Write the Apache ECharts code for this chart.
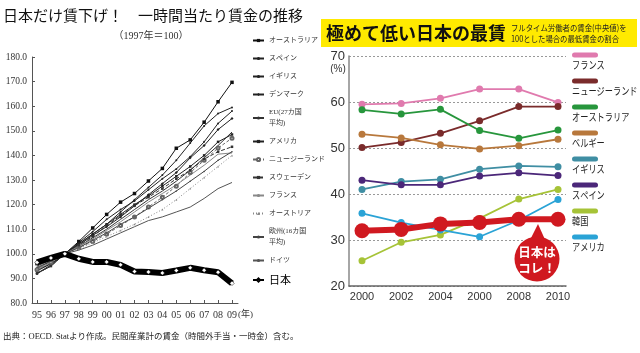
<!DOCTYPE html>
<html><head><meta charset="utf-8">
<script src="https://cdn.jsdelivr.net/npm/echarts@6/dist/echarts.min.js"></script>
<style>html,body{margin:0;padding:0;background:#fff}#c{width:640px;height:353px}</style>
</head><body><div id="c"></div><script>
// ---------- Left chart data (1997 = 100) ----------
const leftCategories = ['95','96','97','98','99','00','01','02','03','04','05','06','07','08','09'];
const leftTickLabels = ['95','96','97','98','99','00','01','02','03','04','05','06','07','08','09'];
const australiaIdx = [96, 97.5, 100, 105, 110.5, 116, 121, 124.5, 129.6, 134.7, 142.9, 146.3, 153.5, 161.8, 169.7];
const spainIdx     = [92, 95, 100, 104, 108, 112, 117, 122, 127, 132, 138, 145, 152, 157, 159.5];
const ukIdx        = [93.5, 96, 100, 104.5, 109, 114, 118, 121.5, 126, 130.5, 134.5, 139.5, 145.5, 153, 158];
const denmarkIdx   = [92, 95.5, 100, 103.5, 107.5, 111, 115, 119.5, 124, 128.5, 133, 139, 144, 150.5, 155];
const eu27Idx      = [94, 97, 100, 103, 106.5, 110, 114, 118, 122, 125.5, 129.5, 134, 139, 144, 149.5];
const usaIdx       = [93, 96, 100, 104, 108, 112, 116, 120, 123.5, 127.5, 131.5, 135.5, 140, 145.5, 148.5];
const nzIdx        = [93.5, 96.5, 100, 102.5, 105, 108, 111.5, 115, 119, 123, 127.5, 133, 138, 143, 147];
const swedenIdx    = [92, 95, 100, 103.5, 107, 111.5, 115.5, 119.5, 123, 126.5, 130.5, 134, 138.5, 141.5, 143.5];
const franceIdx    = [93.5, 96.5, 100, 103, 106, 109.5, 113, 117, 121, 124.5, 128, 132, 136, 140.5, 141];
const austriaIdx   = [94, 97, 100, 102, 104.5, 107, 109.5, 112, 115, 118, 122, 126.5, 131, 135.5, 140];
const eu16Idx      = [94.5, 97, 100, 102.5, 105.5, 108.5, 112, 115, 118.5, 122, 125.5, 129.5, 133.5, 138, 141.5];
const germanyIdx   = [95, 97.5, 100, 101.5, 103.5, 106, 108.5, 111, 113.5, 115, 117, 119, 122.5, 126.5, 129];
const japanIdx     = [96.5, 98.3, 100, 98, 96.7, 96.7, 95.5, 92.8, 92.6, 92.2, 93.2, 94.3, 93.3, 92.5, 88];

// ---------- Right chart data (% of median full-time wage) ----------
const rightCategories = ['2000','2002','2004','2006','2008','2010'];
const rightTickLabels = ['2000','2002','2004','2000','2008','2010'];
const franceMin    = [59.5, 59.7, 60.8, 62.8, 62.8, 59.9];
const nzMin        = [50.1, 51.2, 53.2, 55.9, 59.0, 59.0];
const australiaMin = [58.3, 57.4, 58.4, 53.8, 52.1, 53.9];
const belgiumMin   = [53.0, 52.2, 50.7, 49.8, 50.5, 51.9];
const ukMin        = [41.0, 42.7, 43.2, 45.4, 46.1, 45.9];
const spainMin     = [43.0, 42.0, 42.0, 43.9, 44.6, 44.0];
const koreaMin     = [25.5, 29.5, 31.1, 34.7, 38.9, 41.0];
const usaMin       = [35.8, 33.8, 32.2, 30.7, 34.3, 38.8];
const japanMin     = [32.0, 32.3, 33.5, 33.8, 34.5, 34.5];

const serif = "'Liberation Serif','Noto Sans CJK JP',serif";
const jp = "'Noto Sans CJK JP',sans-serif";

const leftDefs = [
  ['オーストラリア', australiaIdx, {color:'#111', type:'solid'}, 'rect', 3.5],
  ['スペイン', spainIdx, {color:'#222', type:'solid'}, 'circle', 2],
  ['イギリス', ukIdx, {color:'#222', type:'solid'}, 'circle', 2],
  ['デンマーク', denmarkIdx, {color:'#222', type:'solid'}, 'diamond', 3],
  ['EU(27カ国平均)', eu27Idx, {color:'#333', type:'solid'}, 'none', 0],
  ['アメリカ', usaIdx, {color:'#222', type:'solid'}, 'rect', 2.5],
  ['ニュージーランド', nzIdx, {color:'#666', type:[3,2]}, 'emptyCircle', 3],
  ['スウェーデン', swedenIdx, {color:'#333', type:[4,2]}, 'rect', 2.5],
  ['フランス', franceIdx, {color:'#888', type:'solid'}, 'none', 0],
  ['オーストリア', austriaIdx, {color:'#888', type:[1,2]}, 'triangle', 2],
  ['欧州(16カ国平均)', eu16Idx, {color:'#444', type:'solid'}, 'circle', 1.5],
  ['ドイツ', germanyIdx, {color:'#555', type:'solid'}, 'none', 0]
];

const series = [];
leftDefs.forEach(d => {
  series.push({
    name: d[0], type: 'line', xAxisIndex: 1, yAxisIndex: 1, data: d[1],
    symbol: d[3], symbolSize: d[4], showSymbol: d[3] !== 'none',
    lineStyle: {width: 1, color: d[2].color, type: d[2].type},
    itemStyle: {color: d[2].color}, animation: false, silent: true
  });
});
series.push({
  name: '日本', type: 'line', xAxisIndex: 1, yAxisIndex: 1, data: japanIdx,
  symbol: 'diamond', symbolSize: 4.5, z: 5,
  lineStyle: {width: 6, color: '#000'}, itemStyle: {color: '#fff', borderColor: '#000', borderWidth: 0.5},
  animation: false, silent: true
});

const rightDefs = [
  ['フランス', franceMin, '#E07AAE'],
  ['ニュージーランド', nzMin, '#7A2B2B'],
  ['オーストラリア', australiaMin, '#27963C'],
  ['ベルギー', belgiumMin, '#B8783C'],
  ['イギリス', ukMin, '#3F8EA3'],
  ['スペイン', spainMin, '#4B2779'],
  ['韓国', koreaMin, '#A6C337'],
  ['アメリカ', usaMin, '#2AA3D6']
];
rightDefs.forEach(d => {
  series.push({
    name: 'R_' + d[0], type: 'line', xAxisIndex: 3, yAxisIndex: 3, data: d[1],
    symbol: 'circle', symbolSize: 7, lineStyle: {width: 1.8, color: d[2]},
    itemStyle: {color: d[2]}, animation: false, silent: true
  });
});
series.push({
  name: 'R_日本', type: 'line', xAxisIndex: 3, yAxisIndex: 3, data: japanMin,
  symbol: 'circle', symbolSize: 15, z: 6, lineStyle: {width: 6, color: '#D01920'},
  itemStyle: {color: '#D01920'}, animation: false, silent: true
});

const graphics = [
  {type:'text', left:3, top:8, style:{text:'日本だけ賃下げ！　一時間当たり賃金の推移', font:'15px '+jp, fill:'#111'}},
  {type:'text', x:151, y:36, style:{text:'（1997年＝100）', font:'10px '+serif, fill:'#333', textAlign:'center', textVerticalAlign:'middle'}},
  {type:'text', x:3, y:337, style:{text:'出典：OECD. Statより作成。民間産業計の賃金（時間外手当・一時金）含む。', font:'8.5px '+serif, fill:'#222', textVerticalAlign:'middle'}},
  {type:'text', x:238, y:315, style:{text:'(年)', font:'9px '+serif, fill:'#333', textVerticalAlign:'middle'}},
  {type:'rect', shape:{x:321, y:19, width:316, height:28}, style:{fill:'#FFEA00'}},
  {type:'text', x:326, y:33, style:{text:'極めて低い日本の最賃', font:'bold 18px '+jp, fill:'#111', textVerticalAlign:'middle'}},
  {type:'text', x:511, y:28, scaleX:0.88, style:{text:'フルタイム労働者の賃金(中央値)を', font:'8.4px '+jp, fill:'#222', textVerticalAlign:'middle'}},
  {type:'text', x:511, y:39, scaleX:0.88, style:{text:'100とした場合の最低賃金の割合', font:'8.4px '+jp, fill:'#222', textVerticalAlign:'middle'}},
  {type:'text', x:338, y:69, style:{text:'(%)', font:'10px Liberation Sans', fill:'#333', textAlign:'center', textVerticalAlign:'middle'}},
  {type:'polygon', shape:{points:[[528,244],[547,244],[538,224]]}, style:{fill:'#D01920'}, z:10},
  {type:'circle', shape:{cx:537, cy:259, r:22.5}, style:{fill:'#D01920'}, z:10},
  {type:'text', x:537, y:252, z:11, style:{text:'日本は', font:'bold 12.5px '+jp, fill:'#fff', textAlign:'center', textVerticalAlign:'middle'}},
  {type:'text', x:537, y:268, z:11, style:{text:'コレ！', font:'bold 12.5px '+jp, fill:'#fff', textAlign:'center', textVerticalAlign:'middle'}}
];
rightDefs.forEach((d, i) => {
  const by = 55 + i * 26;
  graphics.push({type:'rect', shape:{x:572, y:by-2.5, width:26, height:5, r:2.5}, style:{fill:d[2]}});
  graphics.push({type:'text', x:572, y:by+10, scaleX:0.78, style:{text:d[0], font:'10.5px '+jp, fill:'#222', textVerticalAlign:'middle'}});
});

const option = {
  backgroundColor: '#fff',
  animation: false,
  grid: [
    {left:32, top:57, width:206, height:246},
    {left:37, top:57, width:195, height:246},
    {left:349, top:56, width:217, height:230},
    {left:362, top:56, width:196, height:230}
  ],
  xAxis: [
    {gridIndex:0, type:'value', min:0, max:1, axisLine:{show:true, onZero:false, lineStyle:{color:'#555', width:1}}, axisTick:{show:false}, axisLabel:{show:false}, splitLine:{show:false}},
    {gridIndex:1, type:'category', data:leftCategories, boundaryGap:false, axisLine:{show:false},
     axisTick:{show:true, inside:true, length:3, lineStyle:{color:'#555'}},
     axisLabel:{interval:0, margin:7, fontSize:10, fontFamily:serif, color:'#333', formatter:(v,i)=>leftTickLabels[i]}},
    {gridIndex:2, type:'value', min:0, max:1, axisLine:{show:true, onZero:false, lineStyle:{color:'#666', width:1.5}}, axisTick:{show:false}, axisLabel:{show:false}, splitLine:{show:false}},
    {gridIndex:3, type:'category', data:rightCategories, boundaryGap:false, axisLine:{show:false}, axisTick:{show:false},
     axisLabel:{interval:0, margin:5, fontSize:11, fontFamily:"'Liberation Sans Narrow','Liberation Sans',sans-serif", color:'#333', formatter:(v,i)=>rightTickLabels[i]}}
  ],
  yAxis: [
    {gridIndex:0, type:'value', min:80, max:180, interval:10, axisLine:{show:true, onZero:false, lineStyle:{color:'#555', width:1}},
     axisTick:{show:true, inside:true, length:3, lineStyle:{color:'#555'}}, splitLine:{show:false},
     axisLabel:{margin:5, fontSize:9.5, fontFamily:serif, color:'#333', formatter:v=>v.toFixed(1)}},
    {gridIndex:1, type:'value', min:80, max:180, show:false},
    {gridIndex:2, type:'value', min:20, max:70, interval:10, axisLine:{show:true, onZero:false, lineStyle:{color:'#888', width:1.5}},
     axisTick:{show:false}, splitLine:{show:true, lineStyle:{color:'#999', type:[2,2], width:1}},
     axisLabel:{margin:4, fontSize:13, fontFamily:"'Liberation Sans',sans-serif", color:'#333'}},
    {gridIndex:3, type:'value', min:20, max:70, show:false}
  ],
  legend: {
    orient:'vertical', left:247, top:30, itemWidth:11, itemHeight:4, itemGap:7,
    data: leftDefs.map(d=>d[0]).concat([{name:'日本', textStyle:{fontSize:11, lineHeight:14, fontFamily:jp, color:'#000'}}]),
    formatter: n => n.replace('カ国', 'カ国\n'),
    textStyle:{fontSize:7, lineHeight:11, fontFamily:serif, color:'#333'},
    selectedMode:false
  },
  graphic: graphics,
  series: series
};
const chart = echarts.init(document.getElementById('c'), null, {renderer:'canvas'});
chart.setOption(option);
</script></body></html>
